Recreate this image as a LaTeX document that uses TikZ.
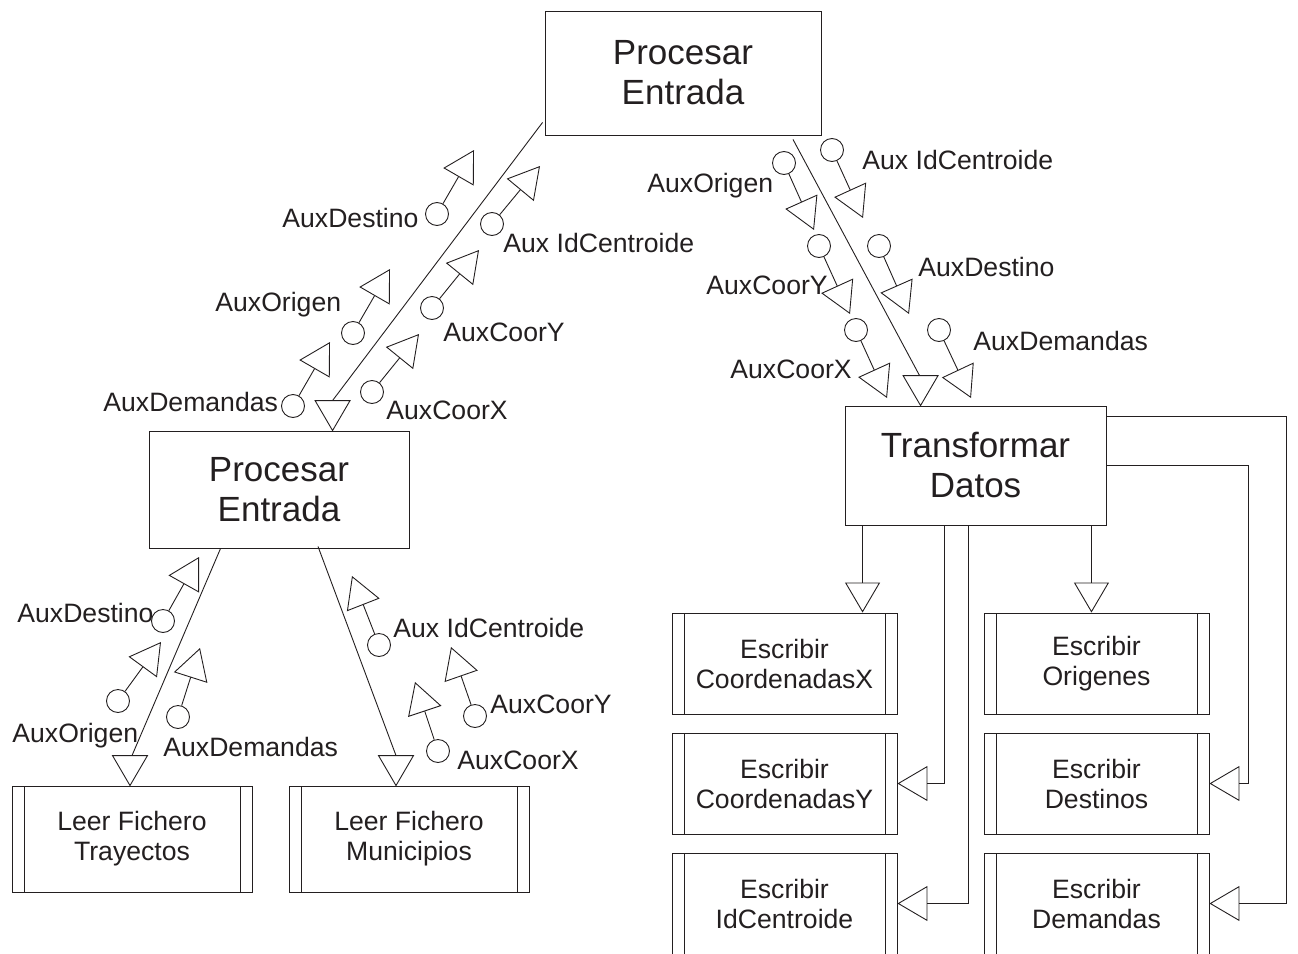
\documentclass[tikz,border=0pt]{standalone}
\usepackage{fontspec}
\setmainfont{Liberation Sans}
\usetikzlibrary{arrows.meta,calc}
\definecolor{ink}{RGB}{35,31,32}
\newcommand\bigtxt{\fontsize{35}{40}\selectfont}
\newcommand\smalltxt{\fontsize{26.6}{30}\selectfont}
% open triangle standing on its base, apex at #1 (pointing down)
\newcommand\flatarrow[1]{\draw[fill=white] (#1) -- ++(-17.5,-30) -- ++(35,0) -- cycle;}
% data couple: circle at #2, line with open triangle ending at #3
\newcommand\couple[3]{%
  \node[dot] (#1) at (#2) {};
  \coordinate (#1-t) at (#3);
  \draw[couple] (#1) -- (#1-t);}

\begin{document}
\begin{tikzpicture}[x=1pt,y=-1pt,line width=0.9pt,color=ink,
  proc/.style={draw,align=center,font=\bigtxt,inner sep=0pt},
  sub/.style={draw,align=center,font=\smalltxt,inner sep=0pt,
    path picture={
      \draw ([xshift=12pt]path picture bounding box.north west) -- ([xshift=12pt]path picture bounding box.south west);
      \draw ([xshift=-12pt]path picture bounding box.north east) -- ([xshift=-12pt]path picture bounding box.south east);}},
  dot/.style={draw,circle,minimum size=23pt,inner sep=0pt},
  couple/.style={-{Triangle[open,length=31pt,width=35pt]}},
  flow/.style={-{Triangle[open,length=30pt,width=35pt]}},
  lbl/.style={font=\smalltxt,inner sep=0pt,anchor=base west}]
\useasboundingbox (0,0) rectangle (1298,953);
\clip (0,0) rectangle (1298,953);

% processes
\node[proc,minimum width=276pt,minimum height=124pt] (top) at (683,73) {Procesar\\Entrada};
\node[proc,minimum width=260pt,minimum height=117pt] (lmid) at (279,489.5) {Procesar\\Entrada};
\node[proc,minimum width=261pt,minimum height=119pt] (trans) at (975.5,465.5) {Transformar\\Datos};

% predefined modules
\node[sub,minimum width=240pt,minimum height=106pt] (tray) at (132,839) {Leer Fichero\\Trayectos};
\node[sub,minimum width=240pt,minimum height=106pt] (muni) at (409,839) {Leer Fichero\\Municipios};
\node[sub,minimum width=225pt,minimum height=101pt] (ex)  at (784.5,663.5)  {Escribir\\CoordenadasX};
\node[sub,minimum width=225pt,minimum height=101pt] (eo)  at (1096.5,663.5) {Escribir\\Origenes};
\node[sub,minimum width=225pt,minimum height=101pt] (ey)  at (784.5,783.5)  {Escribir\\CoordenadasY};
\node[sub,minimum width=225pt,minimum height=101pt] (ed)  at (1096.5,783.5) {Escribir\\Destinos};
\node[sub,minimum width=225pt,minimum height=101pt] (ei)  at (784.5,903.5)  {Escribir\\IdCentroide};
\node[sub,minimum width=225pt,minimum height=101pt] (edm) at (1096.5,903.5) {Escribir\\Demandas};

% slanted calls with flat arrowheads
\coordinate (a1) at ($(top.south west)+(-2,-13)$);
\coordinate (a1t) at ($(lmid.north west)+(184,0)$);
\draw (a1) -- ($(a1t)+(0,-30)$);
\flatarrow{a1t}

\coordinate (a2) at ($(top.south)+(110,4)$);
\coordinate (a2t) at ($(trans.north west)+(76,0)$);
\draw (a2) -- ($(a2t)+(-1,-30)$);
\flatarrow{a2t}

\coordinate (a3) at ($(lmid.south west)+(72,0)$);
\coordinate (a3t) at ($(tray.north)+(-2,0)$);
\draw (a3) -- ($(a3t)+(2,-30)$);
\flatarrow{a3t}

\coordinate (a4) at ($(lmid.south)+(39,-2)$);
\coordinate (a4t) at ($(muni.north)+(-13,0)$);
\draw (a4) -- ($(a4t)+(0,-30)$);
\flatarrow{a4t}

% calls from Transformar Datos
\coordinate (b1) at ($(trans.south west)+(18,0)$);
\draw[flow] (b1) -- (b1 |- ex.north);
\coordinate (b2) at ($(trans.south east)+(-15,0)$);
\draw[flow] (b2) -- (b2 |- eo.north);
\coordinate (b3) at ($(trans.south west)+(100,0)$);
\draw[flow] (b3) |- (ey.east);
\coordinate (b4) at ($(trans.south west)+(124,0)$);
\draw[flow] (b4) |- (ei.east);
\draw[flow] (trans.east) -- ++(142,0) |- (ed.east);
\coordinate (b6) at ($(trans.north east)+(0,11)$);
\draw[flow] (b6) -- ++(180,0) |- (edm.east);

% couples: Procesar Entrada (left) to Procesar Entrada (top)
\couple{c1}{437,214}{474,150}
\couple{c2}{492,224}{540,166}
\couple{c3}{353,333}{390,269}
\couple{c4}{432,308}{479,250}
\couple{c5}{293,406}{330,342}
\couple{c6}{372,392}{419,334}
\node[lbl] at (282,227.5) {AuxDestino};
\node[lbl] at (503,252.5) {Aux IdCentroide};
\node[lbl] at (215,311.5) {AuxOrigen};
\node[lbl] at (443,341.5) {AuxCoorY};
\node[lbl] at (103,411.5) {AuxDemandas};
\node[lbl] at (386,419.5) {AuxCoorX};

% couples: Procesar Entrada (top) to Transformar Datos
\couple{d1}{784,163}{814,230}
\couple{d2}{832,150}{863,218}
\couple{d3}{819,246}{850,314}
\couple{d4}{879,246}{909,314}
\couple{d5}{856,330}{887,398}
\couple{d6}{939,330}{971,398}
\node[lbl] at (647,192.5) {AuxOrigen};
\node[lbl] at (862,169.5) {Aux IdCentroide};
\node[lbl] at (706,294.5) {AuxCoorY};
\node[lbl] at (918,276.5) {AuxDestino};
\node[lbl] at (730,378.5) {AuxCoorX};
\node[lbl] at (973,350.5) {AuxDemandas};

% couples: Leer Fichero Trayectos to Procesar Entrada
\couple{e1}{163,621}{199,557}
\couple{e2}{118,701}{161,642}
\couple{e3}{178,717}{200,648}
\node[lbl] at (17,622.5) {AuxDestino};
\node[lbl] at (12,742) {AuxOrigen};
\node[lbl] at (163,756.5) {AuxDemandas};

% couples: Leer Fichero Municipios to Procesar Entrada
\couple{f1}{379,645}{352,576}
\couple{f2}{475,716}{451,647}
\couple{f3}{438,751}{415,682}
\node[lbl] at (393,637.5) {Aux IdCentroide};
\node[lbl] at (490,713.5) {AuxCoorY};
\node[lbl] at (457,769.5) {AuxCoorX};
\end{tikzpicture}
\end{document}
